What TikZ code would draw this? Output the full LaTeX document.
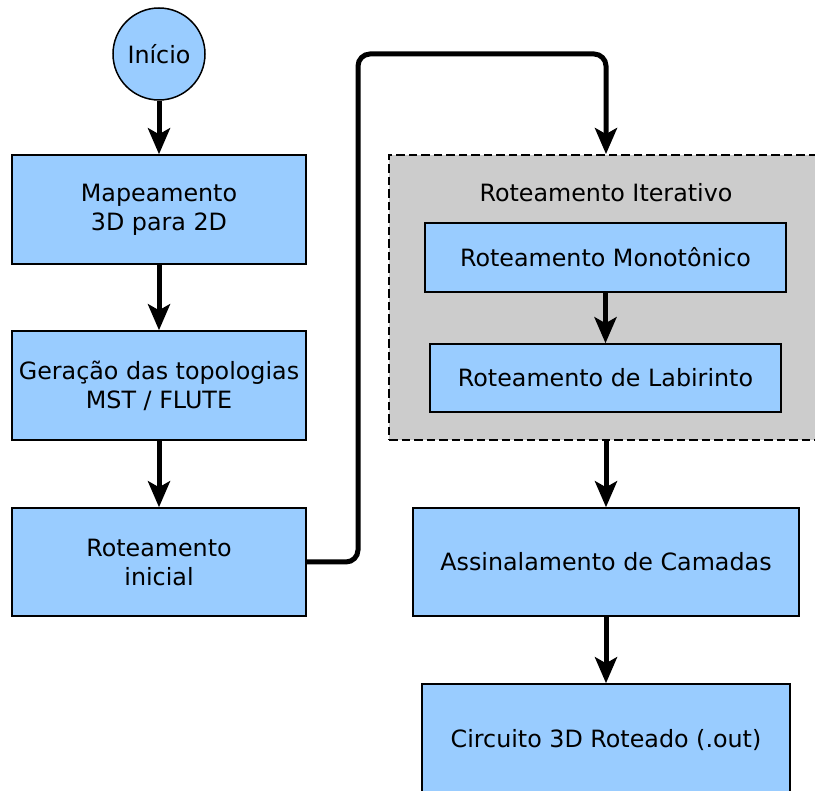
\documentclass[tikz,border=0pt]{standalone}
\usepackage{fontspec}
\setmainfont{DejaVu Sans}
\usetikzlibrary{arrows.meta}
\definecolor{boxblue}{RGB}{153,204,255}
\definecolor{grpgrey}{RGB}{204,204,204}
\begin{document}
\begin{tikzpicture}[x=1pt,y=-1pt,
  font=\fontsize{23.8}{29}\selectfont,
  proc/.style={draw=black,line width=1.5pt,fill=boxblue,rectangle,inner sep=0pt,align=center},
  flow/.style={line width=5pt,-{Stealth[length=26pt,width=22pt,inset=6pt]}}]
\useasboundingbox (0,0) rectangle (815,791);
\node[proc,circle,minimum size=92pt] (start) at (159,54) {Início};
\node[proc,minimum width=294pt,minimum height=109pt] (map) at (159,209.5) {Mapeamento\\3D para 2D};
\node[proc,minimum width=294pt,minimum height=109pt] (ger) at (159,385.5) {Geração das topologias\\MST / FLUTE};
\node[proc,minimum width=294pt,minimum height=108pt] (ri) at (159,562) {Roteamento\\inicial};
\node[draw=black,line width=1.8pt,fill=grpgrey,dash pattern=on 8.5pt off 4pt,rectangle,inner sep=0pt,minimum width=434pt,minimum height=285pt] (grp) at (606,297.5) {};
\node (title) at (606,193) {Roteamento Iterativo};
\node[proc,minimum width=361pt,minimum height=69pt] (mono) at (605.5,257.5) {Roteamento Monotônico};
\node[proc,minimum width=351pt,minimum height=68pt] (lab) at (605.5,378) {Roteamento de Labirinto};
\node[proc,minimum width=386pt,minimum height=108pt] (as) at (606,562) {Assinalamento de Camadas};
\node[proc,minimum width=368pt,minimum height=112pt] (circ) at (606,740) {Circuito 3D Roteado (.out)};
\coordinate (c1) at (358,54);
\draw[flow] (start) -- (map);
\draw[flow] (map) -- (ger);
\draw[flow] (ger) -- (ri);
\draw[flow,rounded corners=12pt] (ri.east) -| (c1) -| (grp.north);
\draw[flow] (mono) -- (lab);
\draw[flow] (grp.south) -- (as.north);
\draw[flow] (as) -- (circ);
\end{tikzpicture}
\end{document}
